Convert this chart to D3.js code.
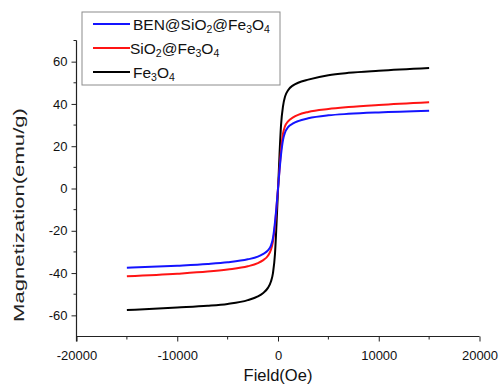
<!DOCTYPE html>
<html>
<head>
<meta charset="utf-8">
<script src="https://cdn.jsdelivr.net/npm/d3@7"></script>
<style>
  html, body { margin: 0; padding: 0; background: #fff; }
  svg { display: block; font-family: Arial, "Liberation Sans", sans-serif; }
</style>
</head>
<body>
<svg id="chart" width="499" height="385"></svg>
<script>
// Applied field (Oe) at which magnetization was sampled
const field = [-15000, -10000, -7000, -5000, -3000, -2000, -1500, -1000, -700, -500, -300, -150, 0,
               150, 300, 500, 700, 1000, 1500, 2000, 3000, 5000, 7000, 10000, 15000];

// Magnetization (emu/g) for each sample
const magFe3O4 = [-57.5, -56.3, -55.5, -54.6, -52.8, -51.0, -49.5, -47.0, -44.0, -40.0, -31.0, -17.0, -1.0,
                  16.0, 30.0, 39.0, 43.5, 46.5, 48.8, 50.0, 51.5, 53.6, 54.7, 55.7, 57.0];
const magSiO2 = [-41.5, -40.3, -39.3, -38.3, -36.8, -35.3, -34.0, -31.8, -29.0, -25.0, -17.5, -9.0, 0.0,
                 9.0, 18.0, 26.0, 29.5, 31.8, 33.6, 34.8, 36.2, 37.6, 38.5, 39.5, 40.8];
const magBEN = [-37.5, -36.5, -35.7, -34.9, -33.5, -32.2, -31.0, -29.3, -27.0, -23.5, -16.0, -8.5, 0.0,
                8.5, 16.0, 23.0, 26.5, 29.0, 30.8, 31.9, 33.2, 34.6, 35.3, 36.0, 36.8];

const seriesNames = ["BEN@SiO2@Fe3O4", "SiO2@Fe3O4", "Fe3O4"];
const seriesColors = ["#1414ff", "#ff1414", "#000000"];
const seriesValues = [magBEN, magSiO2, magFe3O4];

const xTicks = [-20000, -10000, 0, 10000, 20000];
const xMinorTicks = [-15000, -5000, 5000, 15000];
const yTicks = [-60, -40, -20, 0, 20, 40, 60];
const yMinorTicks = [-50, -30, -10, 10, 30, 50, 70];

const svg = d3.select("#chart");

const x = d3.scaleLinear().domain([-20000, 20000]).range([76.5, 479.5]);
const y = d3.scaleLinear().domain([-70, 70]).range([336.5, 40.5]);

// Plain hyphen for negative tick labels
const fmt = d => String(d);

// Curves
const line = d3.line()
  .x(d => x(d[0]))
  .y(d => y(d[1]))
  .curve(d3.curveMonotoneX);

[2, 1, 0].forEach(i => {
  svg.append("path")
    .datum(field.map((f, k) => [f, seriesValues[i][k]]))
    .attr("d", line)
    .attr("fill", "none")
    .attr("stroke", seriesColors[i])
    .attr("stroke-width", 2)
    .attr("stroke-linejoin", "round");
});

// Axes
const axisColor = "#222";
const xAxis = svg.append("g").attr("transform", `translate(0,${y(-70)})`)
  .call(d3.axisBottom(x).tickValues(xTicks).tickSize(5).tickPadding(9).tickFormat(fmt));
xAxis.append("g").selectAll("line").data(xMinorTicks).join("line")
  .attr("x1", d => x(d)).attr("x2", d => x(d)).attr("y1", 0).attr("y2", 3)
  .attr("stroke", axisColor);

const yAxis = svg.append("g").attr("transform", `translate(${x(-20000)},0)`)
  .call(d3.axisLeft(y).tickValues(yTicks).tickSize(5).tickPadding(4).tickFormat(fmt));
yAxis.append("g").selectAll("line").data(yMinorTicks).join("line")
  .attr("x1", 0).attr("x2", -3).attr("y1", d => y(d)).attr("y2", d => y(d))
  .attr("stroke", axisColor);

[xAxis, yAxis].forEach(g => {
  g.select(".domain").attr("stroke", axisColor).attr("stroke-width", 1.2);
  g.selectAll(".tick line").attr("stroke", axisColor);
  g.selectAll(".tick text").attr("fill", "#111").style("font-size", "13px")
    .style("font-family", "Arial, 'Liberation Sans', sans-serif");
});
xAxis.select(".domain").attr("d", `M${x(-20000)},0H${x(20000)}`);
yAxis.select(".domain").attr("d", `M0,${y(70)}V${y(-70) + 5}`);

// Axis titles
svg.append("text")
  .attr("x", x(0)).attr("y", 381)
  .attr("text-anchor", "middle")
  .style("font-size", "16.5px").attr("fill", "#111")
  .text("Field(Oe)");

svg.append("text")
  .attr("transform", `translate(24,215) rotate(-90)`)
  .attr("text-anchor", "middle")
  .attr("textLength", 214).attr("lengthAdjust", "spacingAndGlyphs")
  .style("font-size", "14.5px").attr("fill", "#222")
  .text("Magnetization(emu/g)");

// Legend
const legend = svg.append("g");
legend.append("rect")
  .attr("x", 82).attr("y", 12).attr("width", 198).attr("height", 73)
  .attr("fill", "#fff").attr("stroke", "#8c8c8c").attr("stroke-width", 1);

// Chemical formulas with subscripted digits
function formula(textSel, name) {
  const parts = name.match(/[0-9]+|[^0-9]+/g);
  parts.forEach(p => {
    const isSub = /^[0-9]+$/.test(p);
    textSel.append("tspan")
      .attr("baseline-shift", isSub ? "-30%" : null)
      .style("font-size", isSub ? "10.5px" : "15.5px")
      .text(p);
  });
}

const legendY = [24, 48, 72];
const legendTextX = [133, 130, 133];
seriesNames.forEach((name, i) => {
  legend.append("line")
    .attr("x1", 93).attr("x2", 130)
    .attr("y1", legendY[i]).attr("y2", legendY[i])
    .attr("stroke", seriesColors[i]).attr("stroke-width", 1.8);
  const t = legend.append("text")
    .attr("x", legendTextX[i]).attr("y", legendY[i] + 5.5)
    .attr("fill", "#111");
  formula(t, name);
});
</script>
</body>
</html>
